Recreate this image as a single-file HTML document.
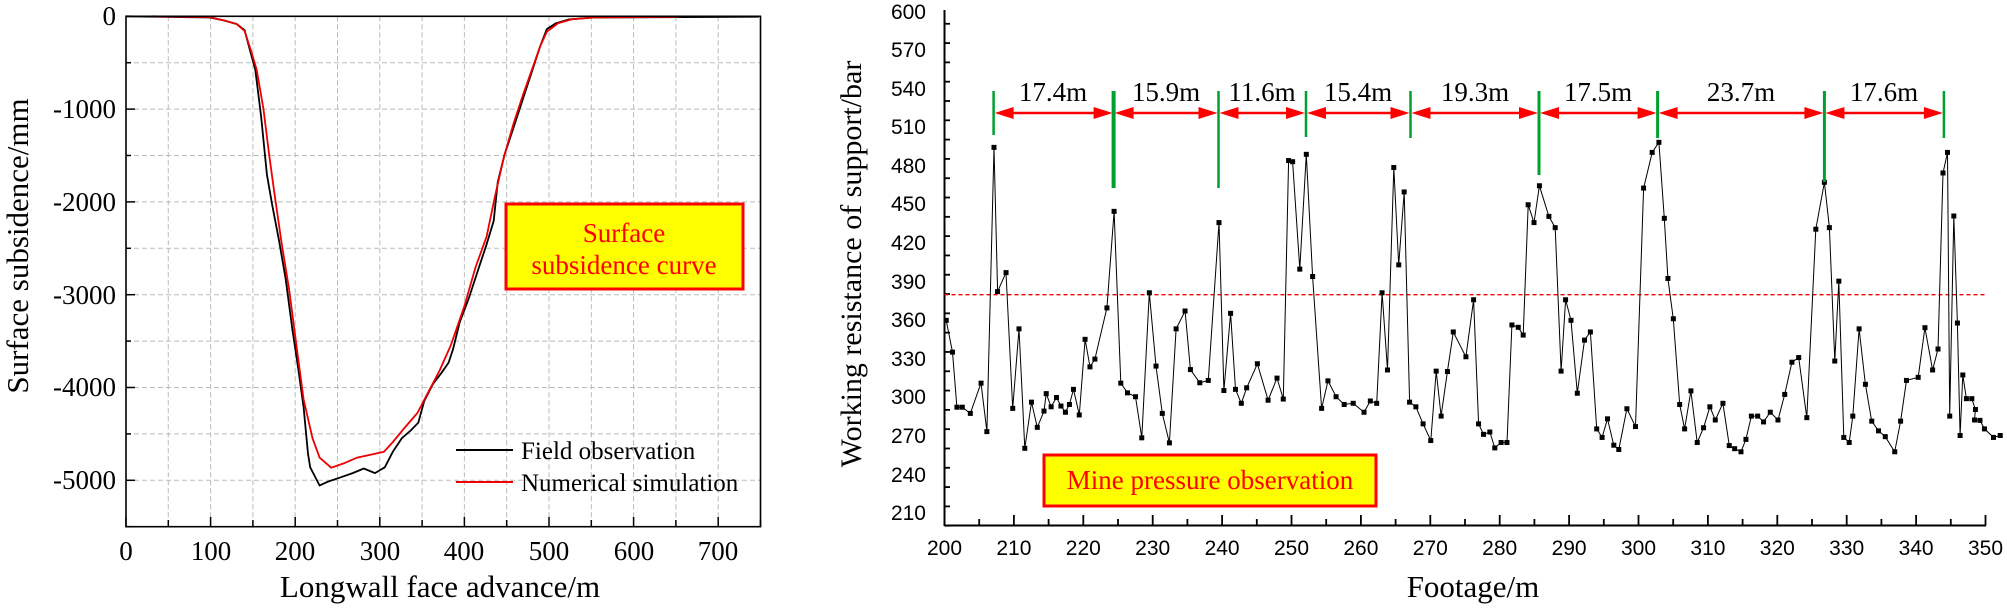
<!DOCTYPE html>
<html><head><meta charset="utf-8"><style>
html,body{margin:0;padding:0;background:#fff;}
svg{display:block;}
.t{font-family:"Liberation Serif",serif;}
.s{font-family:"Liberation Sans",sans-serif;}
</style></head><body>
<svg id="c" width="2007" height="608" xmlns="http://www.w3.org/2000/svg">
<rect width="2007" height="608" fill="#fff"/>
<g id="lgrid"></g>
<g id="lcurves"></g>
<rect x="126" y="16.3" width="634.5" height="510.4" fill="none" stroke="#000" stroke-width="1.6"/>
<g id="lticks"></g>
<!-- left y labels -->
<g class="t" font-size="27" text-anchor="end" fill="#000">
<text x="116" y="25">0</text>
<text x="116" y="118">-1000</text>
<text x="116" y="211">-2000</text>
<text x="116" y="304">-3000</text>
<text x="116" y="396">-4000</text>
<text x="116" y="489">-5000</text>
</g>
<g class="t" font-size="27" text-anchor="middle" fill="#000">
<text x="126" y="560">0</text>
<text x="211" y="560">100</text>
<text x="295" y="560">200</text>
<text x="380" y="560">300</text>
<text x="464" y="560">400</text>
<text x="549" y="560">500</text>
<text x="634" y="560">600</text>
<text x="718" y="560">700</text>
</g>
<text class="t" font-size="31" text-anchor="middle" x="440" y="597">Longwall face advance/m</text>
<text class="t" font-size="31" text-anchor="middle" transform="translate(28,246) rotate(-90)">Surface subsidence/mm</text>
<!-- legend -->
<line x1="456" y1="450" x2="513" y2="450" stroke="#000" stroke-width="2"/>
<line x1="456" y1="482" x2="513" y2="482" stroke="#e00" stroke-width="2"/>
<text class="t" font-size="25" x="521" y="459">Field observation</text>
<text class="t" font-size="25" x="521" y="491">Numerical simulation</text>
<rect x="506" y="204" width="237" height="85" fill="#ffff00" stroke="#f00" stroke-width="3"/>
<text class="t" font-size="27" fill="#f00" text-anchor="middle" x="624" y="242">Surface</text>
<text class="t" font-size="27" fill="#f00" text-anchor="middle" x="624" y="274">subsidence curve</text>

<!-- right chart -->
<line x1="944.5" y1="10" x2="944.5" y2="526" stroke="#000" stroke-width="2"/>
<line x1="944.5" y1="525.5" x2="1986" y2="525.5" stroke="#000" stroke-width="2"/>
<g id="rticks"></g>
<line x1="944.5" y1="294.7" x2="1986" y2="294.7" stroke="#e00" stroke-width="1.3" stroke-dasharray="4,3"/>
<g id="rdata"></g>
<g class="s" font-size="21" text-anchor="end" fill="#000">
<text x="926" y="19">600</text>
<text x="926" y="57">570</text>
<text x="926" y="96">540</text>
<text x="926" y="134">510</text>
<text x="926" y="173">480</text>
<text x="926" y="211">450</text>
<text x="926" y="250">420</text>
<text x="926" y="289">390</text>
<text x="926" y="327">360</text>
<text x="926" y="366">330</text>
<text x="926" y="404">300</text>
<text x="926" y="443">270</text>
<text x="926" y="482">240</text>
<text x="926" y="520">210</text>
</g>
<g class="s" font-size="21" text-anchor="middle" fill="#000">
<text x="944.5" y="555">200</text>
<text x="1013.9" y="555">210</text>
<text x="1083.3" y="555">220</text>
<text x="1152.7" y="555">230</text>
<text x="1222.1" y="555">240</text>
<text x="1291.5" y="555">250</text>
<text x="1360.9" y="555">260</text>
<text x="1430.3" y="555">270</text>
<text x="1499.7" y="555">280</text>
<text x="1569.1" y="555">290</text>
<text x="1638.5" y="555">300</text>
<text x="1707.9" y="555">310</text>
<text x="1777.3" y="555">320</text>
<text x="1846.7" y="555">330</text>
<text x="1916.1" y="555">340</text>
<text x="1985.5" y="555">350</text>
</g>
<text class="t" font-size="31" text-anchor="middle" x="1473" y="597">Footage/m</text>
<text class="t" font-size="30" text-anchor="middle" transform="translate(861,264) rotate(-90)">Working resistance of support/bar</text>
<rect x="1044" y="455" width="332" height="51" fill="#ffff00" stroke="#f00" stroke-width="3"/>
<text class="t" font-size="27" fill="#f00" text-anchor="middle" x="1210" y="489">Mine pressure observation</text>
<g id="arrows"></g>
<g class="t" font-size="27" text-anchor="middle" fill="#000">
<text x="1053" y="101">17.4m</text>
<text x="1166" y="101">15.9m</text>
<text x="1262" y="101">11.6m</text>
<text x="1358" y="101">15.4m</text>
<text x="1475" y="101">19.3m</text>
<text x="1598" y="101">17.5m</text>
<text x="1741" y="101">23.7m</text>
<text x="1884" y="101">17.6m</text>
</g>
</svg>
<script>
var NS="http://www.w3.org/2000/svg";
function el(p,n,a){var e=document.createElementNS(NS,n);for(var k in a)e.setAttribute(k,a[k]);document.getElementById(p).appendChild(e);return e;}
// left grid
for(var i=1;i<15;i++){var x=126+i*42.3;el("lgrid","line",{x1:x,y1:16.3,x2:x,y2:526.7,stroke:"#bbb","stroke-width":1,"stroke-dasharray":"5,3"});}
for(var j=1;j<11;j++){var y=16.3+j*46.4;el("lgrid","line",{x1:126,y1:y,x2:760.5,y2:y,stroke:"#bbb","stroke-width":1,"stroke-dasharray":"5,3"});}
for(var i=0;i<=15;i++){var x=126+i*42.3;el("lticks","line",{x1:x,y1:526.7,x2:x,y2:i%2?520:517,stroke:"#000","stroke-width":1.5});}
for(var j=0;j<=11;j++){var y=16.3+j*46.4;el("lticks","line",{x1:126,y1:y,x2:j%2?131:135,y2:y,stroke:"#000","stroke-width":1.5});}
function L(a){var s=[];for(var i=0;i<a.length;i+=2)s.push((a[i]*0.4464).toFixed(1)+","+(a[i+1]*0.3878).toFixed(1));return s.join(" ");}
var blk=[282,42,470,45,500,52,530,62,548,78,560,130,572,180,585,300,598,450,610,530,625,620,640,720,655,850,668,950,680,1050,690,1170,695,1205,716,1252,735,1242,760,1232,790,1220,815,1208,840,1220,862,1205,880,1165,900,1130,920,1110,937,1090,950,1035,970,990,990,960,1005,935,1015,900,1030,830,1050,770,1070,700,1090,630,1106,570,1115,470,1130,400,1150,330,1170,260,1190,190,1210,120,1225,75,1245,60,1275,50,1330,45,1700,43];
var red=[340,42,470,44,500,52,530,62,548,80,562,130,575,180,590,280,603,400,615,500,630,620,648,750,665,900,680,1030,700,1130,716,1180,742,1206,770,1195,800,1180,820,1175,860,1165,880,1140,905,1105,935,1065,960,1010,985,955,1010,890,1040,790,1065,690,1090,610,1110,500,1130,400,1150,320,1170,250,1190,185,1210,120,1225,82,1250,60,1280,50,1330,45,1520,43];
el("lcurves","polyline",{points:L(blk),fill:"none",stroke:"#000","stroke-width":1.8});
el("lcurves","polyline",{points:L(red),fill:"none",stroke:"#e00","stroke-width":1.8});
// right ticks
for(var v=200;v<=600;v+=15){var y=10.9+(600-v)*1.287;el("rticks","line",{x1:944.5,y1:y,x2:v%30==0?955:950,y2:y,stroke:"#000","stroke-width":1.8});}
for(var f=200;f<=350;f+=5){var x=944.5+(f-200)*6.94;el("rticks","line",{x1:x,y1:525.5,x2:x,y2:f%10==0?515:519,stroke:"#000","stroke-width":1.8});}
// data
var z2=[686,826,700,908,710,1050,722,1050,740,1066,764,988,777,1113,793,380,801,752,820,703,835,1053,849,848,862,1156,877,1037,890,1102,905,1060,910,1015,921,1049,933,1025,943,1047,953,1063,962,1043,971,1004,984,1070,997,875,1008,946,1019,926,1046,794,1062,545,1077,988,1092,1013,1110,1023,1124,1129,1141,755,1156,944,1170,1066,1186,1142,1201,848,1221,802,1233,953,1254,987,1273,981,1297,574,1308,1007,1323,808,1334,1004,1347,1040,1359,1000,1383,938,1407,1032,1427,975,1441,1029,1453,414,1462,417,1478,694];
var z3=[14,398,28,713,48,1053,62,982,80,1023,98,1043,118,1040,142,1063,156,1034,170,1040,182,755,194,954,208,432,219,683,231,495,243,1037,257,1049,273,1093,290,1136,302,957,313,1073,327,958,340,856,368,920,385,773,396,1093,407,1120,421,1114,432,1155,446,1141,459,1141,470,838,484,844,495,864,506,528,519,574,531,479,552,558,566,587,579,957,589,773,601,826,615,1014,631,877,644,856,658,1106,670,1128,682,1080,696,1148,707,1159,725,1054,744,1100,762,485,781,393,796,367,808,563,816,718,828,822,842,1043,853,1106,867,1008,881,1141,895,1103,909,1049,921,1083,938,1040,952,1149,964,1157,978,1165,989,1133,1001,1073,1015,1073,1028,1088,1043,1063,1060,1083,1075,1017,1091,934,1106,922,1124,1077,1144,591,1163,470,1174,587,1186,931,1195,725,1206,1128,1218,1141,1226,1073,1240,848,1254,991,1268,1086,1283,1111,1298,1126,1319,1165,1332,1086,1345,981,1371,973,1386,845,1403,954,1415,900,1426,446,1436,393,1441,1073,1450,557,1458,833,1464,1123,1470,967,1478,1028,1490,1028,1498,1056,1496,1083,1508,1084,1518,1106,1538,1128,1553,1123];
var pts=[];
for(var i=0;i<z2.length;i+=2)pts.push([640+z2[i]*0.4464,z2[i+1]*0.3878]);
for(var i=0;i<z3.length;i+=2)pts.push([1300+z3[i]*0.4509,z3[i+1]*0.3878]);
el("rdata","polyline",{points:pts.map(function(p){return p[0].toFixed(1)+","+p[1].toFixed(1)}).join(" "),fill:"none",stroke:"#000","stroke-width":1});
pts.forEach(function(p){el("rdata","rect",{x:p[0]-2.5,y:p[1]-2.5,width:5,height:5,fill:"#000"});});
// arrows
var gx=[993.6,1113.6,1218.5,1306,1410.5,1539,1657.6,1824.4,1943.9];
var gb=[135,188,188,137,138,175,138,182,138];
var gw=[2.5,4,2.5,2.5,2.5,3,3,3,2.5];
for(var i=0;i<gx.length-1;i++){var a=gx[i]+1,b=gx[i+1]-1,y=113;
el("arrows","line",{x1:a+12,y1:y,x2:b-12,y2:y,stroke:"#f00","stroke-width":2.5});
el("arrows","polygon",{points:a+","+y+" "+(a+19)+","+(y-6)+" "+(a+19)+","+(y+6),fill:"#f00"});
el("arrows","polygon",{points:b+","+y+" "+(b-19)+","+(y-6)+" "+(b-19)+","+(y+6),fill:"#f00"});}
for(var i=0;i<gx.length;i++)el("arrows","line",{x1:gx[i],y1:91,x2:gx[i],y2:gb[i],stroke:"#00a030","stroke-width":gw[i]});
</script>
</body></html>
